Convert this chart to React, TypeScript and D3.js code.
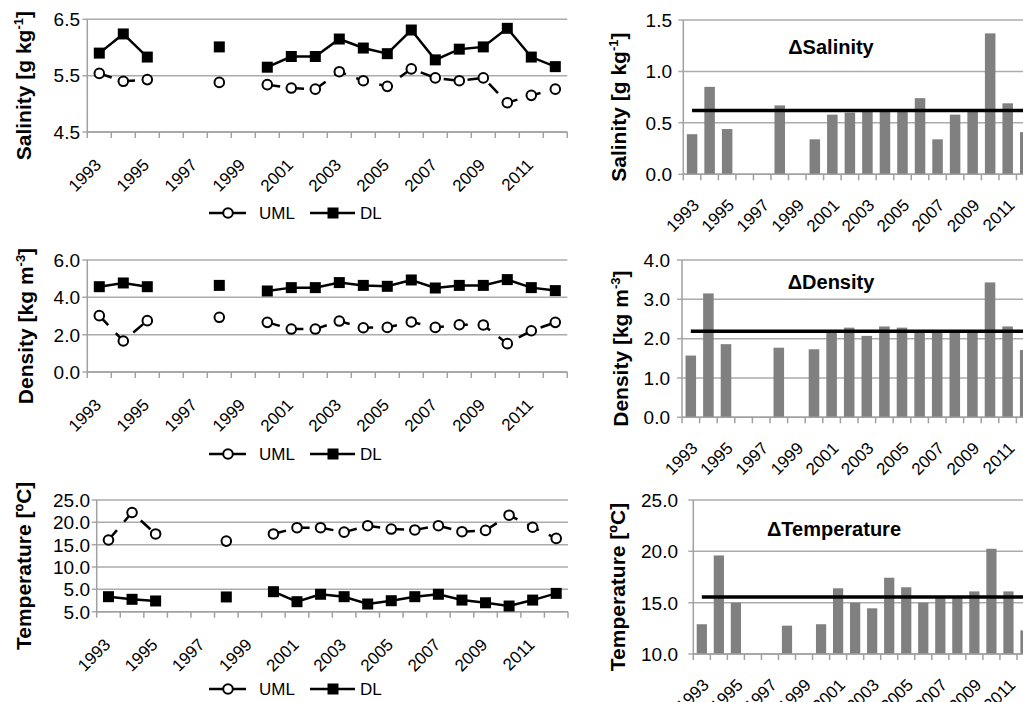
import React from "react";
import * as d3 from "d3";

const years = ["1993","1994","1995","1996","1997","1998","1999","2000","2001","2002","2003","2004","2005","2006","2007","2008","2009","2010","2011","2012"];

const salUML = [5.54, 5.40, 5.43, null, null, 5.38, null, 5.34, 5.28, 5.26, 5.57, 5.41, 5.31, 5.62, 5.46, 5.41, 5.46, 5.02, 5.15, 5.26];
const salDL = [5.90, 6.24, 5.83, null, null, 6.01, null, 5.65, 5.84, 5.84, 6.15, 5.99, 5.89, 6.31, 5.78, 5.97, 6.01, 6.34, 5.83, 5.66];
const denUML = [3.02, 1.66, 2.75, null, null, 2.93, null, 2.66, 2.30, 2.30, 2.73, 2.37, 2.39, 2.68, 2.39, 2.53, 2.52, 1.52, 2.21, 2.66];
const denDL = [4.57, 4.77, 4.57, null, null, 4.64, null, 4.34, 4.52, 4.52, 4.79, 4.64, 4.59, 4.93, 4.50, 4.64, 4.64, 4.95, 4.52, 4.36];
const tmpUML = [16.05, 22.2, 17.4, null, null, 15.8, null, 17.4, 18.8, 18.8, 17.8, 19.25, 18.5, 18.3, 19.25, 17.9, 18.2, 21.6, 18.9, 16.4];
const tmpDL = [3.36, 2.77, 2.4, null, null, 3.3, null, 4.48, 2.24, 3.9, 3.36, 1.72, 2.46, 3.36, 3.9, 2.6, 2.0, 1.27, 2.6, 4.1];

const dSal = [0.39, 0.85, 0.44, null, null, 0.67, null, 0.34, 0.58, 0.60, 0.61, 0.61, 0.61, 0.74, 0.34, 0.58, 0.61, 1.37, 0.69, 0.41];
const dSalMean = 0.62;
const dDen = [1.57, 3.15, 1.86, null, null, 1.77, null, 1.73, 2.2, 2.28, 2.07, 2.31, 2.28, 2.2, 2.2, 2.2, 2.2, 3.43, 2.31, 1.71];
const dDenMean = 2.19;
const dTmp = [12.9, 19.6, 15.0, null, null, 12.76, null, 12.9, 16.4, 15.0, 14.45, 17.43, 16.5, 15.0, 15.45, 15.45, 16.1, 20.25, 16.1, 12.3];
const dTmpMean = 15.55;

const salTicks = [4.5, 5.5, 6.5];
const salTickLabels = ["4.5", "5.5", "6.5"];
const denTicks = [0, 2, 4, 6];
const denTickLabels = ["0.0", "2.0", "4.0", "6.0"];
const tmpTicks = [0, 5, 10, 15, 20, 25];
const tmpTickLabels = ["5.0", "5.0", "10.0", "15.0", "20.0", "25.0"];

const dSalTicks = [0, 0.5, 1, 1.5];
const dSalTickLabels = ["0.0", "0.5", "1.0", "1.5"];
const dDenTicks = [0, 1, 2, 3, 4];
const dDenTickLabels = ["0.0", "1.0", "2.0", "3.0", "4.0"];
const dTmpTicks = [10, 15, 20, 25];
const dTmpTickLabels = ["10.0", "15.0", "20.0", "25.0"];

const FONT = "'Liberation Sans', Arial, Helvetica, sans-serif";
const GRID = "#ababab";
const AXIS = "#a0a0a0";

type Title = { main: string; sup: string; end: string };

function AxisTitle({ x, y, t }: { x: number; y: number; t: Title }) {
  return (
    <text transform={`translate(${x},${y}) rotate(-90)`} textAnchor="middle" fontFamily={FONT} fontWeight="bold" fontSize={21} fill="#000">
      {t.main}
      {t.sup ? <tspan dy={-8} fontSize={13}>{t.sup}</tspan> : null}
      <tspan dy={t.sup ? 8 : 0}>{t.end}</tspan>
    </text>
  );
}

function YGrid({ x0, x1, y, ticks, labels, labelX }: any) {
  return (
    <g>
      {ticks.map((t: number, i: number) => (
        <g key={i}>
          <line x1={x0 - 5} x2={x1} y1={y(t)} y2={y(t)} stroke={GRID} strokeWidth={1.5} />
          <text x={labelX} y={y(t)} dy="0.36em" textAnchor="end" fontFamily={FONT} fontSize={19} fill="#000">{labels[i]}</text>
        </g>
      ))}
    </g>
  );
}

function XAxis({ x, yB, x0, x1, labelDx, labelDy }: any) {
  const bw = x.bandwidth();
  const bounds = years.map((yr) => x(yr) as number).concat([x1]);
  return (
    <g>
      <line x1={x0} x2={x1} y1={yB} y2={yB} stroke={AXIS} strokeWidth={1.5} />
      {bounds.map((b, i) => (
        <line key={i} x1={b} x2={b} y1={yB} y2={yB + 6} stroke={AXIS} strokeWidth={1.5} />
      ))}
      {years.map((yr, i) =>
        i % 2 === 0 ? (
          <text key={yr} transform={`translate(${(x(yr) as number) + bw / 2 + labelDx},${yB + labelDy}) rotate(-45)`} textAnchor="end" fontFamily={FONT} fontSize={17} fill="#000">{yr}</text>
        ) : null
      )}
    </g>
  );
}

function LineChart(props: any) {
  const { x0, x1, yT, yB, dom, ticks, labels, uml, dl, title, titleX, legendY, labelX } = props;
  const x = d3.scaleBand().domain(years).range([x0, x1]).padding(0);
  const y = d3.scaleLinear().domain(dom).range([yB, yT]);
  const bw = x.bandwidth();
  const cx = (i: number) => (x(years[i]) as number) + bw / 2;
  const line = d3.line<number | null>().defined((d) => d != null).x((d, i) => cx(i)).y((d) => y(d as number));
  return (
    <g>
      <YGrid x0={x0} x1={x1} y={y} ticks={ticks} labels={labels} labelX={labelX} />
      <line x1={x0} x2={x0} y1={yT} y2={yB} stroke={AXIS} strokeWidth={1.5} />
      <XAxis x={x} yB={yB} x0={x0} x1={x1} labelDx={3} labelDy={34} />
      <path d={line(dl) || ""} fill="none" stroke="#000" strokeWidth={2.5} />
      <path d={line(uml) || ""} fill="none" stroke="#000" strokeWidth={2.5} strokeDasharray="13 11" />
      {dl.map((d: number | null, i: number) => d == null ? null : (
        <rect key={"d" + i} x={cx(i) - 5.5} y={y(d) - 5.5} width={11} height={11} fill="#000" />
      ))}
      {uml.map((d: number | null, i: number) => d == null ? null : (
        <circle key={"u" + i} cx={cx(i)} cy={y(d)} r={4.8} fill="#fff" stroke="#000" strokeWidth={2} />
      ))}
      <AxisTitle x={titleX} y={(yT + yB) / 2 + 10} t={title} />
      <g>
        <line x1={209} x2={246} y1={legendY} y2={legendY} stroke="#000" strokeWidth={2.5} />
        <circle cx={228} cy={legendY} r={4.8} fill="#fff" stroke="#000" strokeWidth={2} />
        <text x={259} y={legendY} dy="0.36em" fontFamily={FONT} fontSize={17}>UML</text>
        <line x1={310} x2={355} y1={legendY} y2={legendY} stroke="#000" strokeWidth={2.5} />
        <rect x={333 - 5.5} y={legendY - 5.5} width={11} height={11} fill="#000" />
        <text x={360} y={legendY} dy="0.36em" fontFamily={FONT} fontSize={17}>DL</text>
      </g>
    </g>
  );
}

function BarChart(props: any) {
  const { x0, x1, yT, yB, dom, ticks, labels, vals, mean, title, titleX, labelX, head, headX, headY } = props;
  const x = d3.scaleBand().domain(years).range([x0, x1]).padding(0);
  const y = d3.scaleLinear().domain(dom).range([yB, yT]);
  const bw = x.bandwidth();
  const cx = (i: number) => (x(years[i]) as number) + bw / 2;
  const barW = bw * 0.6;
  return (
    <g>
      <YGrid x0={x0} x1={x1} y={y} ticks={ticks} labels={labels} labelX={labelX} />
      {vals.map((v: number | null, i: number) => v == null ? null : (
        <rect key={i} x={cx(i) - barW / 2} y={y(v)} width={barW} height={yB - y(v)} fill="#808080" />
      ))}
      <line x1={x0} x2={x0} y1={yT} y2={yB} stroke={AXIS} strokeWidth={1.5} />
      <XAxis x={x} yB={yB} x0={x0} x1={x1} labelDx={8} labelDy={32} />
      <line x1={cx(0)} x2={cx(years.length - 1)} y1={y(mean)} y2={y(mean)} stroke="#000" strokeWidth={3.5} />
      <text x={headX} y={headY} textAnchor="middle" fontFamily={FONT} fontWeight="bold" fontSize={20}>{head}</text>
      <AxisTitle x={titleX} y={(yT + yB) / 2 + 10} t={title} />
    </g>
  );
}

export default function App() {
  return (
    <svg width={1023} height={702} style={{ position: "absolute", left: 0, top: 0, background: "#fff" }}>
      <rect x={0} y={0} width={1023} height={702} fill="#fff" />
      <LineChart x0={87.3} x1={567.3} yT={19.3} yB={132} dom={[4.5, 6.5]} ticks={salTicks} labels={salTickLabels}
        uml={salUML} dl={salDL} title={{ main: "Salinity [g kg", sup: "-1", end: "]" }} titleX={31} legendY={213} labelX={80} />
      <LineChart x0={87.3} x1={567.3} yT={260} yB={372} dom={[0, 6]} ticks={denTicks} labels={denTickLabels}
        uml={denUML} dl={denDL} title={{ main: "Density [kg m", sup: "-3", end: "]" }} titleX={33} legendY={454} labelX={80} />
      <LineChart x0={96.7} x1={568} yT={500} yB={611.7} dom={[0, 25]} ticks={tmpTicks} labels={tmpTickLabels}
        uml={tmpUML} dl={tmpDL} title={{ main: "Temperature [ºC]", sup: "", end: "" }} titleX={31} legendY={689} labelX={90} />

      <BarChart x0={683.3} x1={1034} yT={20} yB={174.3} dom={[0, 1.5]} ticks={dSalTicks} labels={dSalTickLabels}
        vals={dSal} mean={dSalMean} title={{ main: "Salinity [g kg", sup: "-1", end: "]" }} titleX={626} labelX={672}
        head="ΔSalinity" headX={831} headY={54} />
      <BarChart x0={682} x1={1034} yT={260} yB={417.3} dom={[0, 4]} ticks={dDenTicks} labels={dDenTickLabels}
        vals={dDen} mean={dDenMean} title={{ main: "Density [kg m", sup: "-3", end: "]" }} titleX={628} labelX={670}
        head="ΔDensity" headX={831} headY={289} />
      <BarChart x0={693.3} x1={1034} yT={500} yB={654} dom={[10, 25]} ticks={dTmpTicks} labels={dTmpTickLabels}
        vals={dTmp} mean={dTmpMean} title={{ main: "Temperature [ºC]", sup: "", end: "" }} titleX={625} labelX={678}
        head="ΔTemperature" headX={834} headY={536} />
    </svg>
  );
}
